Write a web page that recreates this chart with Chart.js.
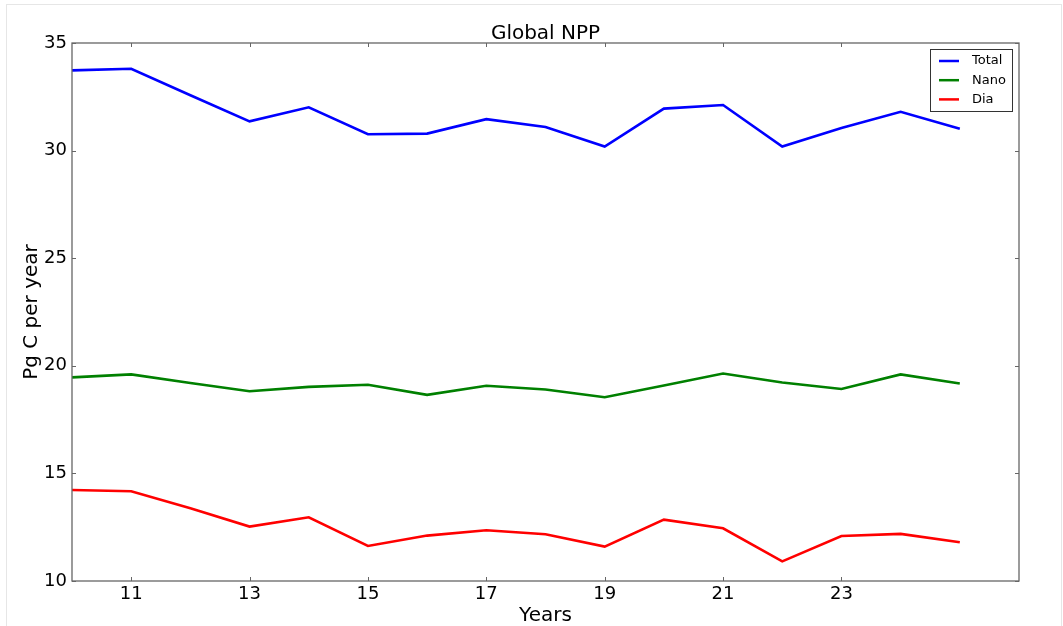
<!DOCTYPE html>
<html>
<head>
<meta charset="utf-8">
<script src="https://cdn.jsdelivr.net/npm/chart.js@4/dist/chart.umd.min.js"></script>
<style>
  html, body { margin: 0; padding: 0; background: #fff; }
  #wrap { position: relative; width: 1063px; height: 626px; }
</style>
</head>
<body>
<div id="wrap"><canvas id="c" width="1063" height="626"></canvas></div>
<script>
// Model years and annual global net primary production (Pg C per year)
const years = [10, 11, 12, 13, 14, 15, 16, 17, 18, 19, 20, 21, 22, 23, 24, 25];
const totalNPP = [33.73, 33.80, 32.57, 31.36, 32.01, 30.76, 30.79, 31.46, 31.10, 30.19, 31.95, 32.12, 30.19, 31.05, 31.80, 31.01];
const nanoNPP  = [19.46, 19.60, 19.20, 18.82, 19.02, 19.12, 18.65, 19.07, 18.90, 18.54, 19.08, 19.64, 19.22, 18.92, 19.60, 19.18];
const diaNPP   = [14.23, 14.17, 13.38, 12.53, 12.96, 11.63, 12.11, 12.36, 12.17, 11.60, 12.85, 12.45, 10.91, 12.09, 12.19, 11.80];
const xTickValues = [11, 13, 15, 17, 19, 21, 23];
const yTickValues = [10, 15, 20, 25, 30, 35];

const FONT = "'DejaVu Sans', sans-serif";

function toPoints(vals) {
  return years.map((y, i) => ({ x: y, y: vals[i] }));
}

// Box frame, inward tick marks, legend box and faint page border
const framePlugin = {
  id: 'frame',
  beforeDraw(chart) {
    const ctx = chart.ctx;
    ctx.save();
    ctx.strokeStyle = '#e6e6e6';
    ctx.lineWidth = 1;
    ctx.strokeRect(6.5, 4.5, 1055, 640);
    ctx.restore();
  },
  afterDatasetsDraw(chart) {
    const ctx = chart.ctx;
    const a = chart.chartArea;
    const xs = chart.scales.x, ys = chart.scales.y;
    ctx.save();
    ctx.strokeStyle = '#666';
    ctx.lineWidth = 1.3;
    ctx.strokeRect(a.left, a.top, a.right - a.left, a.bottom - a.top);
    ctx.lineWidth = 1;
    ctx.beginPath();
    const tl = 4;
    xTickValues.forEach(v => {
      const px = Math.round(xs.getPixelForValue(v)) + 0.5;
      ctx.moveTo(px, a.bottom); ctx.lineTo(px, a.bottom - tl);
      ctx.moveTo(px, a.top); ctx.lineTo(px, a.top + tl);
    });
    yTickValues.forEach(v => {
      const py = Math.round(ys.getPixelForValue(v)) + 0.5;
      ctx.moveTo(a.left, py); ctx.lineTo(a.left + tl, py);
      ctx.moveTo(a.right, py); ctx.lineTo(a.right - tl, py);
    });
    ctx.stroke();

    // legend in the upper right corner
    const bx = 930.5, by = 49.5, bw = 82, bh = 62;
    ctx.fillStyle = '#fff';
    ctx.fillRect(bx, by, bw, bh);
    ctx.strokeStyle = '#333';
    ctx.lineWidth = 1;
    ctx.strokeRect(bx, by, bw, bh);
    ctx.font = '13px ' + FONT;
    ctx.textBaseline = 'middle';
    ctx.textAlign = 'left';
    chart.data.datasets.forEach((ds, i) => {
      const cy = 61 + i * 19.2;
      ctx.strokeStyle = ds.borderColor;
      ctx.lineWidth = 2.5;
      ctx.beginPath();
      ctx.moveTo(939, cy); ctx.lineTo(959, cy);
      ctx.stroke();
      ctx.fillStyle = '#000';
      ctx.fillText(ds.label, 972, cy);
    });
    ctx.restore();
  }
};

new Chart(document.getElementById('c'), {
  type: 'line',
  data: {
    datasets: [
      { label: 'Total', data: toPoints(totalNPP), borderColor: '#0000ff', backgroundColor: '#0000ff' },
      { label: 'Nano',  data: toPoints(nanoNPP),  borderColor: '#008000', backgroundColor: '#008000' },
      { label: 'Dia',   data: toPoints(diaNPP),   borderColor: '#ff0000', backgroundColor: '#ff0000' }
    ]
  },
  options: {
    responsive: false,
    animation: false,
    events: [],
    layout: { padding: { left: 0, right: 44, top: 0, bottom: 0 } },
    elements: {
      line: { borderWidth: 2.6, tension: 0, fill: false },
      point: { radius: 0 }
    },
    plugins: {
      legend: { display: false },
      tooltip: { enabled: false },
      title: {
        display: true,
        text: 'Global NPP',
        fullSize: false,
        color: '#000',
        font: { family: FONT, size: 20, weight: 'normal', lineHeight: 1.2 },
        padding: { top: 22, bottom: -3 }
      }
    },
    scales: {
      x: {
        type: 'linear',
        min: 10,
        max: 26,
        afterBuildTicks(scale) { scale.ticks = xTickValues.map(v => ({ value: v })); },
        afterFit(scale) { scale.height = 45; },
        grid: { display: false, drawTicks: false },
        border: { display: false },
        ticks: {
          color: '#000',
          font: { family: FONT, size: 18 },
          padding: 3,
          maxRotation: 0,
          autoSkip: false
        },
        title: {
          display: true,
          text: 'Years',
          color: '#000',
          font: { family: FONT, size: 20, lineHeight: 1.2 },
          padding: { top: 0, bottom: -2 }
        }
      },
      y: {
        type: 'linear',
        min: 10,
        max: 35,
        afterBuildTicks(scale) { scale.ticks = yTickValues.map(v => ({ value: v })); },
        afterFit(scale) { scale.width = 72; },
        grid: { display: false, drawTicks: false },
        border: { display: false },
        ticks: {
          color: '#000',
          font: { family: FONT, size: 18 },
          padding: 5
        },
        title: {
          display: true,
          text: 'Pg C per year',
          color: '#000',
          font: { family: FONT, size: 20, lineHeight: 1.2 },
          padding: { top: 20, bottom: 0 }
        }
      }
    }
  },
  plugins: [framePlugin]
});
</script>
</body>
</html>
